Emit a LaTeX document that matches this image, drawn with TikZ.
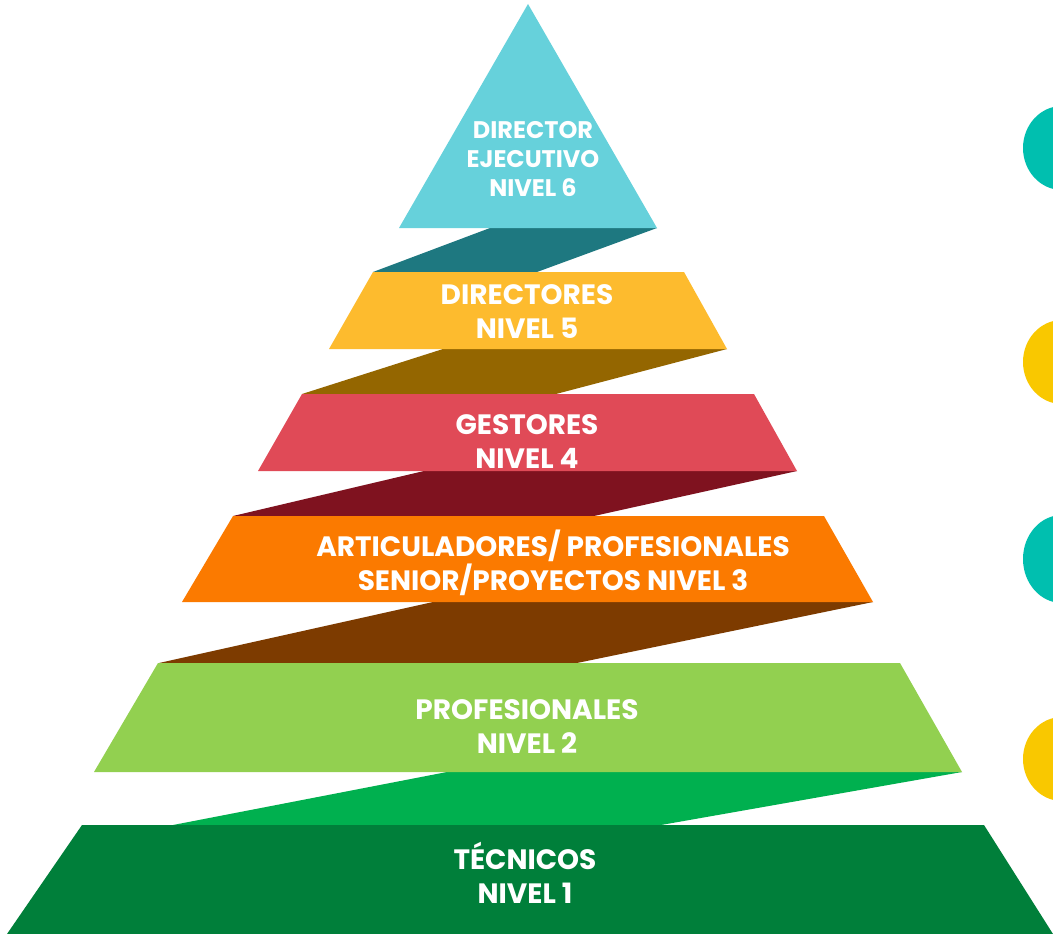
\documentclass[tikz,border=0pt]{standalone}
\usepackage{fontspec}
\setmainfont{Poppins}
\usepackage{tikz}
\definecolor{cielo}{HTML}{66D1DB}
\definecolor{petroleo}{HTML}{1E7880}
\definecolor{ambar}{HTML}{FDBB2E}
\definecolor{ocre}{HTML}{946600}
\definecolor{coral}{HTML}{E04A57}
\definecolor{vino}{HTML}{7F121F}
\definecolor{naranja}{HTML}{FB7A00}
\definecolor{cafe}{HTML}{7D3B00}
\definecolor{lima}{HTML}{92D050}
\definecolor{verde}{HTML}{00B04F}
\definecolor{bosque}{HTML}{007F3A}
\definecolor{turquesa}{HTML}{00BFAF}
\definecolor{oro}{HTML}{F9C800}
\tikzstyle{nivel}=[text=white,align=center,font=\bfseries\fontsize{28}{34}\selectfont]

\begin{document}
\begin{tikzpicture}[x=1pt,y=-1pt]
\useasboundingbox[fill=white] (0,0) rectangle (1053,934);
\fill[turquesa] (1062,148) ellipse (39 and 42);
\fill[oro] (1062,362) ellipse (39 and 42);
\fill[turquesa] (1062,559) ellipse (39 and 44);
\fill[oro] (1062,759) ellipse (39 and 42);
\fill[petroleo] (490,228)--(657,228)--(537,272)--(373,272)--cycle;
\fill[ocre] (443,349)--(727,349)--(556,394)--(302,394)--cycle;
\fill[vino] (424,471)--(797,471)--(594,516)--(233,516)--cycle;
\fill[cafe] (433,602)--(873,602)--(577,663)--(159,663)--cycle;
\fill[verde] (447,772)--(962,772)--(661,825)--(173,825)--cycle;
\fill[cielo] (528,4)--(657,228)--(399,228)--cycle;
\fill[ambar] (373,272)--(684,272)--(727,349)--(329,349)--cycle;
\fill[coral] (302,394)--(754,394)--(797,471)--(258,471)--cycle;
\fill[naranja] (233,516)--(824,516)--(873,602)--(182,602)--cycle;
\fill[lima] (158,663)--(900,663)--(962,772)--(94,772)--cycle;
\fill[bosque] (82,825)--(984,825)--(1053,934)--(7,934)--cycle;
\node[nivel,font=\bfseries\fontsize{24}{29}\selectfont] (n6) at (533,159) {DIRECTOR\\EJECUTIVO\\NIVEL 6};
\node[nivel] (n5) at (527,312) {DIRECTORES\\NIVEL 5};
\node[nivel] (n4) at (527,442) {GESTORES\\NIVEL 4};
\node[nivel] (n3) at (553,563) {ARTICULADORES/ PROFESIONALES\\SENIOR/PROYECTOS NIVEL 3};
\node[nivel] (n2) at (527,727) {PROFESIONALES\\NIVEL 2};
\node[nivel] (n1) at (525,873) {TÉCNICOS\\NIVEL 1};
\end{tikzpicture}
\end{document}
